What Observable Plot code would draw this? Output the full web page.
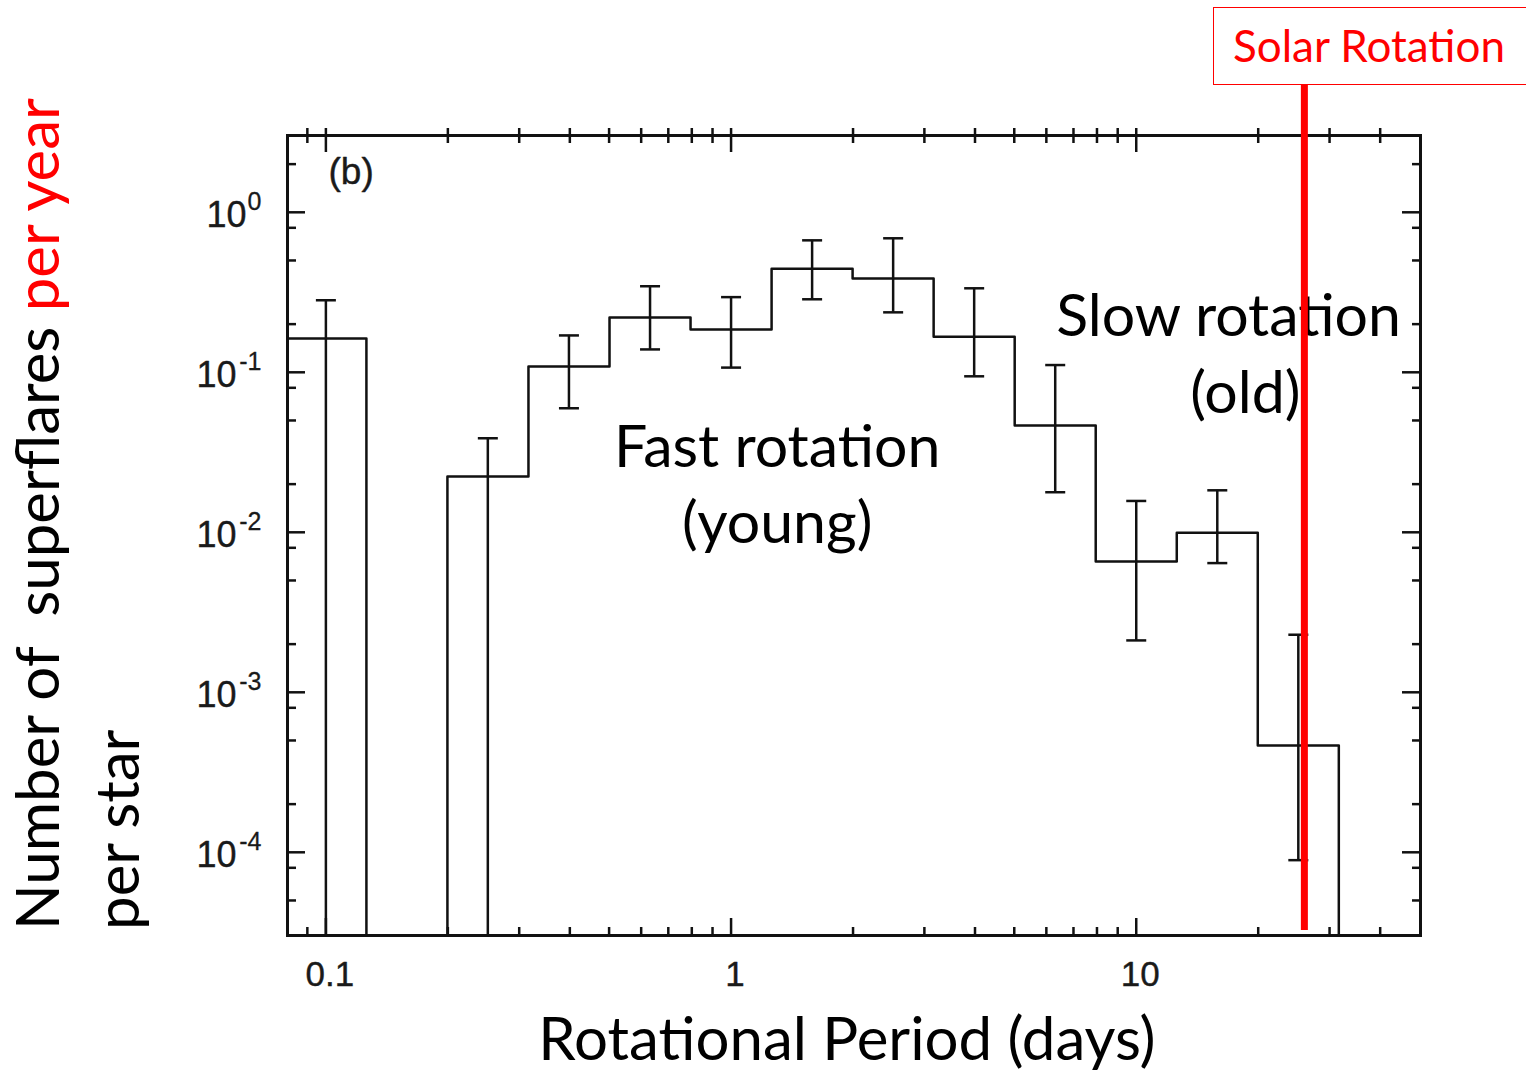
<!DOCTYPE html>
<html><head><meta charset="utf-8">
<script src="https://cdn.jsdelivr.net/npm/d3@7"></script>
<script src="https://cdn.jsdelivr.net/npm/@observablehq/plot@0.6"></script>
<style>
html,body{margin:0;padding:0;background:#fff;overflow:hidden;}
#wrap{position:relative;width:1526px;height:1071px;overflow:hidden;background:#fff;}
#wrap svg{position:absolute;left:0;top:0;}
#solar{position:absolute;left:1213px;top:7px;width:340px;height:78px;border:1.5px solid #f00;box-sizing:border-box;
  font-family:Lato,sans-serif;font-size:44px;color:#f00;line-height:75px;padding-left:19px;white-space:nowrap;z-index:2;background:#fff;}
</style></head><body><div id="wrap"><div id="solar">Solar Rotation</div></div>
<script>
// ---- data ----
const binEdges  = [0.0794, 0.1259, 0.1995, 0.3162, 0.5012, 0.7943, 1.259, 1.995, 3.162, 5.012, 7.943, 12.59, 19.95, 31.62];
const binValues = [0.1625, 0, 0.0223, 0.1086, 0.2197, 0.1849, 0.4446, 0.3853, 0.1671, 0.04645, 0.00656, 0.00995, 0.000465];
const errX  = [0.1, 0.251, 0.398, 0.631, 1.0, 1.585, 2.512, 3.981, 6.31, 10.0, 15.85, 25.12];
const errHi = [0.282, 0.0387, 0.170, 0.345, 0.295, 0.668, 0.688, 0.335, 0.111, 0.0157, 0.0183, 0.00229];
const errLo = [0, 0, 0.0596, 0.139, 0.107, 0.286, 0.237, 0.0944, 0.0178, 0.00211, 0.00642, 0.0000893]; // 0 = below the axis
const solarRotation = 26;

const xMajor = [0.1, 1, 10];
const xMajorLabels = ["0.1", "1", "10"];
const xMinor = [0.09, 0.2, 0.3, 0.4, 0.5, 0.6, 0.7, 0.8, 0.9, 2, 3, 4, 5, 6, 7, 8, 9, 20, 30, 40];
const yMajor = [1, 0.1, 0.01, 0.001, 0.0001];
const yExponents = ["0", "-1", "-2", "-3", "-4"];
const yMinor = [2, 0.8, 0.5, 0.2, 0.08, 0.05, 0.02, 0.008, 0.005, 0.002, 0.0008, 0.0005, 0.0002, 0.00008, 0.00005];

const annotations = [
  {text: "Fast rotation\n(young)", x: 1.30, y: 0.0211},
  {text: "Slow rotation", x: 16.9, y: 0.240},
  {text: "(old)", x: 18.6, y: 0.0791}
];

// ---- derived tables ----
const FLOOR = 1e-7;
const step = binValues.map((v, i) => ({x: binEdges[i], y: v > 0 ? v : FLOOR}));
step.push({x: binEdges[binEdges.length - 1], y: binValues[binValues.length - 1]});
step.push({x: binEdges[binEdges.length - 1], y: FLOOR});
const errs = errX.map((x, i) => ({x, hi: errHi[i], lo: errLo[i] > 0 ? errLo[i] : FLOOR}));
const caps = errs.flatMap(d => [{x: d.x, y: d.hi}, {x: d.x, y: d.lo}]);
const yTicks = yMajor.map((v, i) => ({v, exp: yExponents[i]}));

const W = 1526, H = 1071, ML = 287, MR = 106, MT = 135, MB = 136;
const PW = W - ML - MR, PH = H - MT - MB;
const ink = "#111";
const tickFont = "'Liberation Sans', Arial, sans-serif";
const textFont = "Lato, sans-serif";
const capSymbol = {draw(ctx, size) { const w = Math.sqrt(size / Math.PI); ctx.moveTo(-w, 0); ctx.lineTo(w, 0); }};

const plot = Plot.plot({
  width: W, height: H,
  marginLeft: ML, marginRight: MR, marginTop: MT, marginBottom: MB,
  x: {type: "log", domain: [0.0804, 50.3], axis: null},
  y: {type: "log", domain: [3.02e-5, 3.02], axis: null},
  style: {background: "transparent"},
  marks: [
    // bottom ticks (inward)
    Plot.tickX(xMinor, {x: d => d, insetTop: PH - 8, stroke: ink, strokeWidth: 2.5}),
    Plot.tickX(xMajor, {x: d => d, insetTop: PH - 17, stroke: ink, strokeWidth: 2.5}),
    // top ticks (crossing)
    Plot.tickX(xMinor, {x: d => d, insetTop: -7, insetBottom: PH - 8, stroke: ink, strokeWidth: 2.5}),
    Plot.tickX(xMajor, {x: d => d, insetTop: -7, insetBottom: PH - 17, stroke: ink, strokeWidth: 2.5}),
    // left ticks
    Plot.tickY(yMinor, {y: d => d, insetRight: PW - 9, stroke: ink, strokeWidth: 2.5}),
    Plot.tickY(yMajor, {y: d => d, insetRight: PW - 18, stroke: ink, strokeWidth: 2.5}),
    // right ticks
    Plot.tickY(yMinor, {y: d => d, insetLeft: PW - 8, stroke: ink, strokeWidth: 2.5}),
    Plot.tickY(yMajor, {y: d => d, insetLeft: PW - 18, stroke: ink, strokeWidth: 2.5}),
    Plot.frame({stroke: ink, strokeWidth: 3}),
    // x tick labels
    Plot.text(xMajor, {x: d => d, text: (d, i) => xMajorLabels[i], frameAnchor: "bottom", lineAnchor: "middle", dy: 39, dx: 4,
      fontSize: 35, fontFamily: tickFont, fill: "#1a1a1a", stroke: "#1a1a1a", strokeWidth: 0.4}),
    // y tick labels 10^k
    Plot.text(yTicks, {filter: d => d.exp === "0", y: "v", text: () => "10", frameAnchor: "left", textAnchor: "end",
      dx: -41, dy: 3, fontSize: 36, fontFamily: tickFont, fill: "#1a1a1a", stroke: "#1a1a1a", strokeWidth: 0.4}),
    Plot.text(yTicks, {filter: d => d.exp !== "0", y: "v", text: () => "10", frameAnchor: "left", textAnchor: "end",
      dx: -51, dy: 3, fontSize: 36, fontFamily: tickFont, fill: "#1a1a1a", stroke: "#1a1a1a", strokeWidth: 0.4}),
    Plot.text(yTicks, {y: "v", text: "exp", frameAnchor: "left", textAnchor: "end",
      dx: -26, dy: -10, fontSize: 25, fontFamily: tickFont, fill: "#1a1a1a", stroke: "#1a1a1a", strokeWidth: 0.3}),
    Plot.text(["(b)"], {frameAnchor: "top-left", lineAnchor: "middle", textAnchor: "start", dx: 41, dy: 37,
      fontSize: 37, fontFamily: tickFont, fill: "#1a1a1a", stroke: "#1a1a1a", strokeWidth: 0.4}),
    // histogram outline
    Plot.line(step, {x: "x", y: "y", curve: "step-after", stroke: ink, strokeWidth: 2.5, clip: true}),
    // error bars
    Plot.ruleX(errs, {x: "x", y1: "lo", y2: "hi", stroke: ink, strokeWidth: 2.5, clip: true}),
    Plot.dot(caps, {x: "x", y: "y", symbol: capSymbol, r: 10, fill: "none", stroke: ink, strokeWidth: 2.5, clip: true}),
    // annotations
    Plot.text(annotations, {x: "x", y: "y", text: "text", fontSize: 59, fontFamily: textFont, fill: "#000", lineHeight: 1.29}),
    // x label
    Plot.text(["Rotational Period (days)"], {frameAnchor: "bottom", lineAnchor: "middle", dx: -7, dy: 105, fontSize: 60, fontFamily: textFont, fill: "#000"}),
    // solar rotation line
    Plot.ruleX([solarRotation], {x: d => d, stroke: "#ff0000", strokeWidth: 7, insetTop: -50, insetBottom: 5})
  ]
});

// y-axis title with mixed colours
const svg = d3.select(plot);
const t1 = svg.append("text").attr("transform", "translate(59,930) rotate(-90)").attr("text-anchor", "start")
  .attr("font-family", textFont).attr("font-size", 60).style("white-space", "pre");
t1.append("tspan").attr("fill", "#000").text("Number of  superflares ");
t1.append("tspan").attr("fill", "#ff0000").text("per year");
svg.append("text").attr("transform", "translate(139,930) rotate(-90)").attr("text-anchor", "start")
  .attr("font-family", textFont).attr("font-size", 60).attr("fill", "#000").text("per star");

document.getElementById("wrap").prepend(plot);
</script></body></html>
